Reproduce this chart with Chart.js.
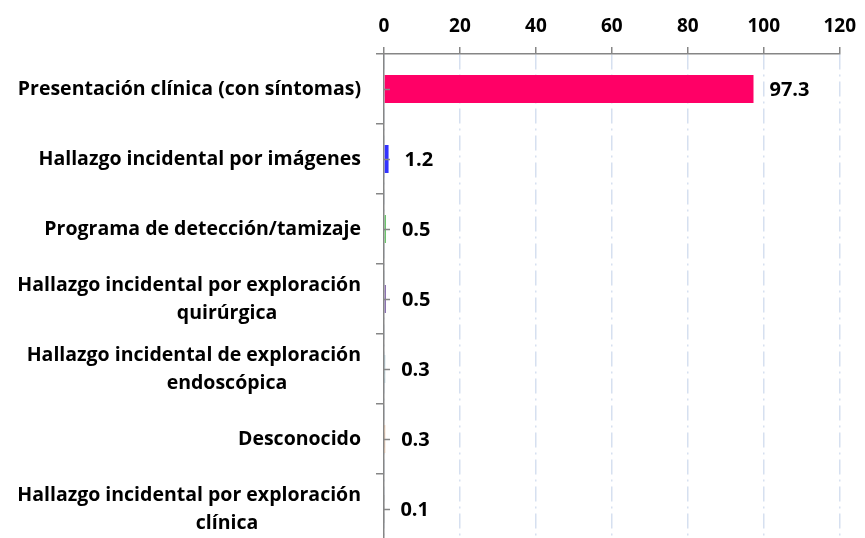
<!DOCTYPE html>
<html><head><meta charset="utf-8">
<script src="https://cdn.jsdelivr.net/npm/chart.js@4"></script>
<style>
html,body{margin:0;padding:0;background:#fff;overflow:hidden;width:865px;height:538px}
canvas{display:block}
</style></head>
<body><canvas id="c" width="865" height="550" style="width:865px;height:550px"></canvas>
<script>
const categories = [
  "Presentación clínica (con síntomas)",
  "Hallazgo incidental por imágenes",
  "Programa de detección/tamizaje",
  ["Hallazgo incidental por exploración","quirúrgica"],
  ["Hallazgo incidental de exploración","endoscópica"],
  "Desconocido",
  ["Hallazgo incidental por exploración","clínica"]
];
const values = [97.3, 1.2, 0.5, 0.5, 0.3, 0.3, 0.1];
const valueLabels = ["97.3","1.2","0.5","0.5","0.3","0.3","0.1"];
const barColors = ['#FF0066','#3333FF','#5CBF5C','#7F62A8','#6C9BA8','#D9955A','#A0A0A0'];
const xTicks = [0,20,40,60,80,100,120];

const FONT = "'Open Sans', sans-serif";
const LABEL_FONT = "bold 19.5px " + FONT;

const labelPlugin = {
  id:'labels',
  afterDatasetsDraw(chart){
    const ctx = chart.ctx;
    const meta = chart.getDatasetMeta(0);
    const yScale = chart.scales.y;
    ctx.save();
    ctx.strokeStyle = '#868686'; ctx.lineWidth = 1.5;
    categories.forEach((c,i)=>{
      const y = Math.round(yScale.getPixelForValue(i))+0.5;
      ctx.beginPath(); ctx.moveTo(yScale.right, y); ctx.lineTo(yScale.right+6, y); ctx.stroke();
    });
    // second lines of wrapped category labels (centered, Excel-style wrap)
    ctx.fillStyle = '#000';
    ctx.font = LABEL_FONT;
    ctx.textAlign = 'center'; ctx.textBaseline = 'middle';
    const cx = yScale.right - 23 - 134;
    categories.forEach((c,i)=>{
      if (Array.isArray(c)) {
        const y = yScale.getPixelForValue(i);
        for (let k=1;k<c.length;k++) ctx.fillText(c[k], cx, y + 14 + (k-1)*28);
      }
    });
    ctx.font = "bold 20px " + FONT;
    ctx.textBaseline = 'middle'; ctx.textAlign = 'left';
    meta.data.forEach((bar,i)=>{
      ctx.fillText(valueLabels[i], bar.x + 16, bar.y + 1);
    });
    ctx.restore();
  }
};

new Chart(document.getElementById('c'), {
  type:'bar',
  data:{ labels: categories, datasets:[{ data: values, backgroundColor: barColors, borderWidth:0, barPercentage:0.8, categoryPercentage:0.5 }]},
  options:{
    indexAxis:'y', responsive:false, maintainAspectRatio:false, animation:false,
    layout:{ padding:{ top:0, right:20, bottom:6, left:0 } },
    plugins:{ legend:{display:false}, tooltip:{enabled:false} },
    scales:{
      x:{
        position:'top', min:0, max:120,
        afterBuildTicks(s){ s.ticks = xTicks.map(v=>({value:v})); },
        afterFit(s){ s.height = 54; },
        grid:{ color:'#D6E0F0', lineWidth:1.5, tickColor:'#868686', tickLength:7, drawTicks:true },
        border:{ display:true, color:'#868686', width:1.5, dash:[15,5,2,5] },
        ticks:{ color:'#000', font:{ family:FONT, size:19, weight:'bold' }, padding:9 }
      },
      y:{
        afterFit(s){ s.width = 384; s.paddingTop = 0; s.paddingBottom = 0; },
        grid:{ drawOnChartArea:false, offset:true, tickColor:'#868686', tickLength:8, lineWidth:1.5 },
        border:{ display:true, color:'#868686', width:1.5 },
        ticks:{
          color:'#000', font:{ family:FONT, size:19.5, weight:'bold', lineHeight:'28px' }, padding:15, autoSkip:false,
          callback(v, i){ const c = categories[i]; return Array.isArray(c) ? c.map((s,k)=> k===0 ? s : '') : c; }
        }
      }
    }
  },
  plugins:[labelPlugin]
});
</script></body></html>
